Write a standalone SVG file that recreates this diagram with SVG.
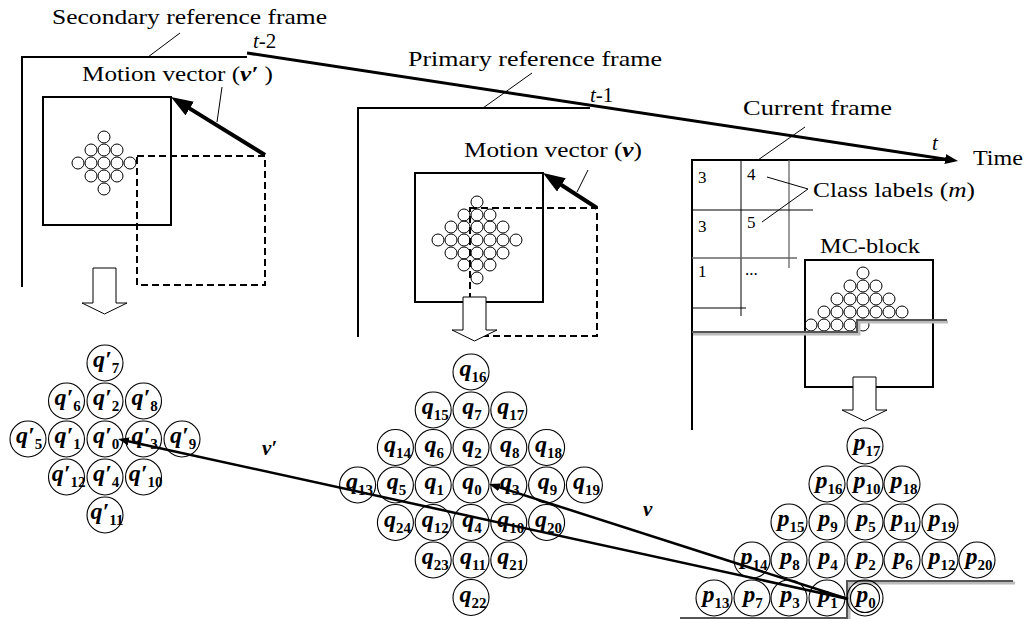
<svg xmlns="http://www.w3.org/2000/svg" width="1028" height="619" viewBox="0 0 1028 619">
<style>
text{font-family:"Liberation Serif","Times New Roman",serif;fill:#000}
.t{font-size:21px}
.g{font-size:17px}
.it{font-style:italic}
.bi{font-weight:bold;font-style:italic}
.frame{fill:none;stroke:#000;stroke-width:2}
.sq{fill:none;stroke:#000;stroke-width:2}
.dash{fill:none;stroke:#000;stroke-width:2;stroke-dasharray:7,4}
.sc{fill:none;stroke:#000;stroke-width:1}
.nc{fill:none;stroke:#000;stroke-width:1.1}
.lb{font-size:24px;font-weight:bold;font-style:italic;text-anchor:middle}
.sb{font-size:15px;font-weight:bold;font-style:normal}
.thin{stroke:#000;stroke-width:1;fill:none}
.grid{stroke:#000;stroke-width:1}
.grid2{stroke:#666;stroke-width:1.3}
.hollow{fill:#fff;stroke:#000;stroke-width:1}
.mv{stroke:#000;stroke-width:4;fill:none}
.lng{stroke:#000;stroke-width:2.5;fill:none}
.shadow{fill:none;stroke:#bbb;stroke-width:3}
.step{fill:none;stroke:#555;stroke-width:2}
</style>
<defs>
<marker id="mvHead" markerUnits="userSpaceOnUse" viewBox="0 0 22 16" markerWidth="22" markerHeight="16" refX="6" refY="8" orient="auto"><path d="M0,0 L22,8 L0,16 z" fill="#000"/></marker>
<marker id="tHead" markerUnits="userSpaceOnUse" viewBox="0 0 13 10" markerWidth="13" markerHeight="10" refX="4" refY="5" orient="auto"><path d="M0,0 L13,5 L0,10 z" fill="#000"/></marker>
<marker id="sHead" markerUnits="userSpaceOnUse" viewBox="0 0 11 8" markerWidth="11" markerHeight="8" refX="3" refY="4" orient="auto"><path d="M0,0 L11,4 L0,8 z" fill="#000"/></marker>
</defs>
<rect width="1028" height="619" fill="#fff"/>

<!-- Secondary reference frame -->
<g id="secondary-frame">
<polyline class="frame" points="22,287 22,57 247,57"/>
<text class="t" x="52" y="24" textLength="275" lengthAdjust="spacingAndGlyphs">Secondary reference frame</text>
<text class="t" x="253" y="48"><tspan class="it">t</tspan>-2</text>
<rect class="dash" x="137" y="156" width="128" height="129"/>
<rect class="sq" x="43" y="97" width="128" height="128"/>
<g>
<circle class="sc" cx="104" cy="137" r="6"/>
<circle class="sc" cx="91" cy="150" r="6"/><circle class="sc" cx="104" cy="150" r="6"/><circle class="sc" cx="117" cy="150" r="6"/>
<circle class="sc" cx="78" cy="163" r="6"/><circle class="sc" cx="91" cy="163" r="6"/><circle class="sc" cx="104" cy="163" r="6"/><circle class="sc" cx="117" cy="163" r="6"/><circle class="sc" cx="130" cy="163" r="6"/>
<circle class="sc" cx="91" cy="176" r="6"/><circle class="sc" cx="104" cy="176" r="6"/><circle class="sc" cx="117" cy="176" r="6"/>
<circle class="sc" cx="104" cy="189" r="6"/>
</g>
<text class="t" x="82" y="81" textLength="191" lengthAdjust="spacingAndGlyphs">Motion vector (<tspan class="bi">ν′</tspan> )</text>
<path class="hollow" d="M93,268 H116 V303 H127 L104.5,314 L82,303 H93 Z"/>
</g>

<!-- Primary reference frame -->
<g id="primary-frame">
<polyline class="frame" points="358,337 358,108 590,108"/>
<text class="t" x="408" y="66" textLength="254" lengthAdjust="spacingAndGlyphs">Primary reference frame</text>
<text class="t" x="590" y="102"><tspan class="it">t</tspan>-1</text>
<rect class="dash" x="470" y="208" width="127" height="128"/>
<rect class="sq" x="415" y="173" width="128" height="129"/>
<g>
<circle class="sc" cx="477" cy="202" r="6"/>
<circle class="sc" cx="464" cy="215" r="6"/><circle class="sc" cx="477" cy="215" r="6"/><circle class="sc" cx="490" cy="215" r="6"/>
<circle class="sc" cx="451" cy="227" r="6"/><circle class="sc" cx="464" cy="227" r="6"/><circle class="sc" cx="477" cy="227" r="6"/><circle class="sc" cx="490" cy="227" r="6"/><circle class="sc" cx="503" cy="227" r="6"/>
<circle class="sc" cx="438" cy="240" r="6"/><circle class="sc" cx="451" cy="240" r="6"/><circle class="sc" cx="464" cy="240" r="6"/><circle class="sc" cx="477" cy="240" r="6"/><circle class="sc" cx="490" cy="240" r="6"/><circle class="sc" cx="503" cy="240" r="6"/><circle class="sc" cx="516" cy="240" r="6"/>
<circle class="sc" cx="451" cy="253" r="6"/><circle class="sc" cx="464" cy="253" r="6"/><circle class="sc" cx="477" cy="253" r="6"/><circle class="sc" cx="490" cy="253" r="6"/><circle class="sc" cx="503" cy="253" r="6"/>
<circle class="sc" cx="464" cy="265" r="6"/><circle class="sc" cx="477" cy="265" r="6"/><circle class="sc" cx="490" cy="265" r="6"/>
<circle class="sc" cx="477" cy="278" r="6"/>
</g>
<text class="t" x="464" y="157" textLength="178" lengthAdjust="spacingAndGlyphs">Motion vector (<tspan class="bi">ν</tspan>)</text>
<path class="hollow" d="M463,297 H486 V330 H497 L474.5,341 L452,330 H463 Z"/>
</g>

<!-- Current frame -->
<g id="current-frame">
<polyline class="frame" points="692,430 692,160 950,160"/>
<text class="t" x="743" y="115" textLength="149" lengthAdjust="spacingAndGlyphs">Current frame</text>
<text class="t it" x="932" y="150">t</text>
<text class="t" x="973" y="165" textLength="50" lengthAdjust="spacingAndGlyphs">Time</text>
<line class="grid" x1="741" y1="160" x2="741" y2="316"/>
<line class="grid2" x1="789" y1="160" x2="789" y2="268"/>
<line class="grid" x1="692" y1="210" x2="813" y2="210"/>
<line class="grid2" x1="692" y1="258" x2="797" y2="258"/>
<line class="grid" x1="692" y1="308" x2="746" y2="308"/>
<text class="g" x="698" y="183">3</text>
<text class="g" x="747" y="180">4</text>
<text class="g" x="698" y="232">3</text>
<text class="g" x="747" y="228">5</text>
<text class="g" x="698" y="277">1</text>
<text class="g" x="745" y="275">...</text>
<text class="t" x="813" y="197" textLength="162" lengthAdjust="spacingAndGlyphs">Class labels (<tspan class="it">m</tspan>)</text>
</g>

<g id="mc-block">
<text class="t" x="820" y="253" textLength="100" lengthAdjust="spacingAndGlyphs">MC-block</text>
<rect class="sq" x="805" y="260" width="128" height="127"/>
<g>
<circle class="sc" cx="863" cy="273" r="6"/>
<circle class="sc" cx="850" cy="286" r="6"/><circle class="sc" cx="863" cy="286" r="6"/><circle class="sc" cx="876" cy="286" r="6"/>
<circle class="sc" cx="837" cy="299" r="6"/><circle class="sc" cx="850" cy="299" r="6"/><circle class="sc" cx="863" cy="299" r="6"/><circle class="sc" cx="876" cy="299" r="6"/><circle class="sc" cx="889" cy="299" r="6"/>
<circle class="sc" cx="824" cy="312" r="6"/><circle class="sc" cx="837" cy="312" r="6"/><circle class="sc" cx="850" cy="312" r="6"/><circle class="sc" cx="863" cy="312" r="6"/><circle class="sc" cx="876" cy="312" r="6"/><circle class="sc" cx="889" cy="312" r="6"/><circle class="sc" cx="902" cy="312" r="6"/>
<circle class="sc" cx="811" cy="325" r="6"/><circle class="sc" cx="824" cy="325" r="6"/><circle class="sc" cx="837" cy="325" r="6"/><circle class="sc" cx="850" cy="325" r="6"/><circle class="sc" cx="863" cy="325" r="6"/>
</g>
<polyline class="shadow" points="693,334 859,334 859,322 948,322"/>
<polyline class="step" points="692,332 857,332 857,320 947,320"/>
<path class="hollow" d="M853,377 H876 V410 H887 L864.5,421 L842,410 H853 Z"/>
</g>

<!-- q' nodes -->
<g id="qprime-set">
<g id="qp7"><circle class="nc" cx="105" cy="363" r="18"/><text class="lb" x="106" y="367">q′<tspan class="sb" dy="6">7</tspan></text></g>
<g id="qp6"><circle class="nc" cx="66.5" cy="401" r="18"/><text class="lb" x="67.5" y="405">q′<tspan class="sb" dy="6">6</tspan></text></g>
<g id="qp2"><circle class="nc" cx="105" cy="401" r="18"/><text class="lb" x="106" y="405">q′<tspan class="sb" dy="6">2</tspan></text></g>
<g id="qp8"><circle class="nc" cx="143.5" cy="401" r="18"/><text class="lb" x="144.5" y="405">q′<tspan class="sb" dy="6">8</tspan></text></g>
<g id="qp5"><circle class="nc" cx="28" cy="439" r="18"/><text class="lb" x="29" y="443">q′<tspan class="sb" dy="6">5</tspan></text></g>
<g id="qp1"><circle class="nc" cx="66.5" cy="439" r="18"/><text class="lb" x="67.5" y="443">q′<tspan class="sb" dy="6">1</tspan></text></g>
<g id="qp0"><circle class="nc" cx="105" cy="439" r="18"/><text class="lb" x="106" y="443">q′<tspan class="sb" dy="6">0</tspan></text></g>
<g id="qp3"><circle class="nc" cx="143.5" cy="439" r="18"/><text class="lb" x="144.5" y="443">q′<tspan class="sb" dy="6">3</tspan></text></g>
<g id="qp9"><circle class="nc" cx="182" cy="439" r="18"/><text class="lb" x="183" y="443">q′<tspan class="sb" dy="6">9</tspan></text></g>
<g id="qp12"><circle class="nc" cx="66.5" cy="477" r="18"/><text class="lb" x="68.5" y="481">q′<tspan class="sb" dy="6">12</tspan></text></g>
<g id="qp4"><circle class="nc" cx="105" cy="477" r="18"/><text class="lb" x="106" y="481">q′<tspan class="sb" dy="6">4</tspan></text></g>
<g id="qp10"><circle class="nc" cx="143.5" cy="477" r="18"/><text class="lb" x="145.5" y="481">q′<tspan class="sb" dy="6">10</tspan></text></g>
<g id="qp11"><circle class="nc" cx="105" cy="515" r="18"/><text class="lb" x="107" y="519">q′<tspan class="sb" dy="6">11</tspan></text></g>
</g>

<!-- q nodes -->
<g id="q-set">
<g id="q16"><circle class="nc" cx="471" cy="372" r="18"/><text class="lb" x="473" y="376">q<tspan class="sb" dy="6">16</tspan></text></g>
<g id="q15"><circle class="nc" cx="433.2" cy="410" r="18"/><text class="lb" x="435.2" y="414">q<tspan class="sb" dy="6">15</tspan></text></g>
<g id="q7"><circle class="nc" cx="471" cy="410" r="18"/><text class="lb" x="472" y="414">q<tspan class="sb" dy="6">7</tspan></text></g>
<g id="q17"><circle class="nc" cx="508.8" cy="410" r="18"/><text class="lb" x="510.8" y="414">q<tspan class="sb" dy="6">17</tspan></text></g>
<g id="q14"><circle class="nc" cx="395.4" cy="447.5" r="18"/><text class="lb" x="397.4" y="451.5">q<tspan class="sb" dy="6">14</tspan></text></g>
<g id="q6"><circle class="nc" cx="433.2" cy="447.5" r="18"/><text class="lb" x="434.2" y="451.5">q<tspan class="sb" dy="6">6</tspan></text></g>
<g id="q2"><circle class="nc" cx="471" cy="447.5" r="18"/><text class="lb" x="472" y="451.5">q<tspan class="sb" dy="6">2</tspan></text></g>
<g id="q8"><circle class="nc" cx="508.8" cy="447.5" r="18"/><text class="lb" x="509.8" y="451.5">q<tspan class="sb" dy="6">8</tspan></text></g>
<g id="q18"><circle class="nc" cx="546.6" cy="447.5" r="18"/><text class="lb" x="548.6" y="451.5">q<tspan class="sb" dy="6">18</tspan></text></g>
<g id="q13"><circle class="nc" cx="357.6" cy="485" r="18"/><text class="lb" x="359.6" y="489">q<tspan class="sb" dy="6">13</tspan></text></g>
<g id="q5"><circle class="nc" cx="395.4" cy="485" r="18"/><text class="lb" x="396.4" y="489">q<tspan class="sb" dy="6">5</tspan></text></g>
<g id="q1"><circle class="nc" cx="433.2" cy="485" r="18"/><text class="lb" x="434.2" y="489">q<tspan class="sb" dy="6">1</tspan></text></g>
<g id="q0"><circle class="nc" cx="471" cy="485" r="18"/><text class="lb" x="472" y="489">q<tspan class="sb" dy="6">0</tspan></text></g>
<g id="q3"><circle class="nc" cx="508.8" cy="485" r="18"/><text class="lb" x="509.8" y="489">q<tspan class="sb" dy="6">3</tspan></text></g>
<g id="q9"><circle class="nc" cx="546.6" cy="485" r="18"/><text class="lb" x="547.6" y="489">q<tspan class="sb" dy="6">9</tspan></text></g>
<g id="q19"><circle class="nc" cx="584.4" cy="485" r="18"/><text class="lb" x="586.4" y="489">q<tspan class="sb" dy="6">19</tspan></text></g>
<g id="q24"><circle class="nc" cx="395.4" cy="522.5" r="18"/><text class="lb" x="397.4" y="526.5">q<tspan class="sb" dy="6">24</tspan></text></g>
<g id="q12"><circle class="nc" cx="433.2" cy="522.5" r="18"/><text class="lb" x="435.2" y="526.5">q<tspan class="sb" dy="6">12</tspan></text></g>
<g id="q4"><circle class="nc" cx="471" cy="522.5" r="18"/><text class="lb" x="472" y="526.5">q<tspan class="sb" dy="6">4</tspan></text></g>
<g id="q10"><circle class="nc" cx="508.8" cy="522.5" r="18"/><text class="lb" x="510.8" y="526.5">q<tspan class="sb" dy="6">10</tspan></text></g>
<g id="q20"><circle class="nc" cx="546.6" cy="522.5" r="18"/><text class="lb" x="548.6" y="526.5">q<tspan class="sb" dy="6">20</tspan></text></g>
<g id="q23"><circle class="nc" cx="433.2" cy="560" r="18"/><text class="lb" x="435.2" y="564">q<tspan class="sb" dy="6">23</tspan></text></g>
<g id="q11"><circle class="nc" cx="471" cy="560" r="18"/><text class="lb" x="473" y="564">q<tspan class="sb" dy="6">11</tspan></text></g>
<g id="q21"><circle class="nc" cx="508.8" cy="560" r="18"/><text class="lb" x="510.8" y="564">q<tspan class="sb" dy="6">21</tspan></text></g>
<g id="q22"><circle class="nc" cx="471" cy="597.5" r="18"/><text class="lb" x="473" y="601.5">q<tspan class="sb" dy="6">22</tspan></text></g>
</g>

<!-- p nodes -->
<g id="p-set">
<polyline class="shadow" points="681,620 849,620 849,583 1015,583"/>
<polyline class="step" points="680,618 847,618 847,581 1013,581"/>
<g id="p17"><circle class="nc" cx="865" cy="446" r="18"/><text class="lb" x="867" y="450">p<tspan class="sb" dy="6">17</tspan></text></g>
<g id="p16"><circle class="nc" cx="827" cy="484" r="18"/><text class="lb" x="829" y="488">p<tspan class="sb" dy="6">16</tspan></text></g>
<g id="p10"><circle class="nc" cx="865" cy="484" r="18"/><text class="lb" x="867" y="488">p<tspan class="sb" dy="6">10</tspan></text></g>
<g id="p18"><circle class="nc" cx="902" cy="484" r="18"/><text class="lb" x="904" y="488">p<tspan class="sb" dy="6">18</tspan></text></g>
<g id="p15"><circle class="nc" cx="789" cy="522" r="18"/><text class="lb" x="791" y="526">p<tspan class="sb" dy="6">15</tspan></text></g>
<g id="p9"><circle class="nc" cx="827" cy="522" r="18"/><text class="lb" x="828" y="526">p<tspan class="sb" dy="6">9</tspan></text></g>
<g id="p5"><circle class="nc" cx="865" cy="522" r="18"/><text class="lb" x="866" y="526">p<tspan class="sb" dy="6">5</tspan></text></g>
<g id="p11"><circle class="nc" cx="902" cy="522" r="18"/><text class="lb" x="904" y="526">p<tspan class="sb" dy="6">11</tspan></text></g>
<g id="p19"><circle class="nc" cx="940" cy="522" r="18"/><text class="lb" x="942" y="526">p<tspan class="sb" dy="6">19</tspan></text></g>
<g id="p14"><circle class="nc" cx="752" cy="560" r="18"/><text class="lb" x="754" y="564">p<tspan class="sb" dy="6">14</tspan></text></g>
<g id="p8"><circle class="nc" cx="789" cy="560" r="18"/><text class="lb" x="790" y="564">p<tspan class="sb" dy="6">8</tspan></text></g>
<g id="p4"><circle class="nc" cx="827" cy="560" r="18"/><text class="lb" x="828" y="564">p<tspan class="sb" dy="6">4</tspan></text></g>
<g id="p2"><circle class="nc" cx="865" cy="560" r="18"/><text class="lb" x="866" y="564">p<tspan class="sb" dy="6">2</tspan></text></g>
<g id="p6"><circle class="nc" cx="902" cy="560" r="18"/><text class="lb" x="903" y="564">p<tspan class="sb" dy="6">6</tspan></text></g>
<g id="p12"><circle class="nc" cx="940" cy="560" r="18"/><text class="lb" x="942" y="564">p<tspan class="sb" dy="6">12</tspan></text></g>
<g id="p20"><circle class="nc" cx="977" cy="560" r="18"/><text class="lb" x="979" y="564">p<tspan class="sb" dy="6">20</tspan></text></g>
<g id="p13"><circle class="nc" cx="714" cy="598" r="18"/><text class="lb" x="716" y="602">p<tspan class="sb" dy="6">13</tspan></text></g>
<g id="p7"><circle class="nc" cx="752" cy="598" r="18"/><text class="lb" x="753" y="602">p<tspan class="sb" dy="6">7</tspan></text></g>
<g id="p3"><circle class="nc" cx="789" cy="598" r="18"/><text class="lb" x="790" y="602">p<tspan class="sb" dy="6">3</tspan></text></g>
<g id="p1"><circle class="nc" cx="827" cy="598" r="18"/><text class="lb" x="828" y="602">p<tspan class="sb" dy="6">1</tspan></text></g>
<g id="p0"><circle class="nc" cx="865" cy="598" r="18"/><circle class="nc" cx="865" cy="598" r="14.5"/><text class="lb" x="866" y="602">p<tspan class="sb" dy="6">0</tspan></text></g>
</g>

<!-- connectors -->
<g id="connectors">
<line x1="247" y1="53" x2="949.1" y2="159.65" stroke="#000" stroke-width="3" marker-end="url(#tHead)"/>
<line class="thin" x1="148" y1="57" x2="180" y2="33"/>
<line class="thin" x1="483" y1="108" x2="532" y2="73"/>
<line class="thin" x1="758" y1="160" x2="805" y2="127"/>
<line class="thin" x1="767" y1="177" x2="808" y2="189"/>
<line class="thin" x1="762" y1="222" x2="808" y2="189"/>
<line class="mv" x1="265" y1="155" x2="184.6" y2="105.4" marker-end="url(#mvHead)"/>
<line class="thin" x1="217" y1="122" x2="222" y2="87"/>
<line class="mv" x1="597" y1="208" x2="556.4" y2="181.7" marker-end="url(#mvHead)"/>
<line class="thin" x1="577" y1="192" x2="588" y2="170"/>
<line class="lng" x1="848" y1="599" x2="125.8" y2="440.7" marker-end="url(#sHead)"/>
<line class="lng" x1="848" y1="599" x2="496.6" y2="486.4" marker-end="url(#sHead)"/>
<text class="bi" x="262" y="455" font-size="21">ν′</text>
<text class="bi" x="643" y="516" font-size="21">ν</text>
</g>
</svg>
